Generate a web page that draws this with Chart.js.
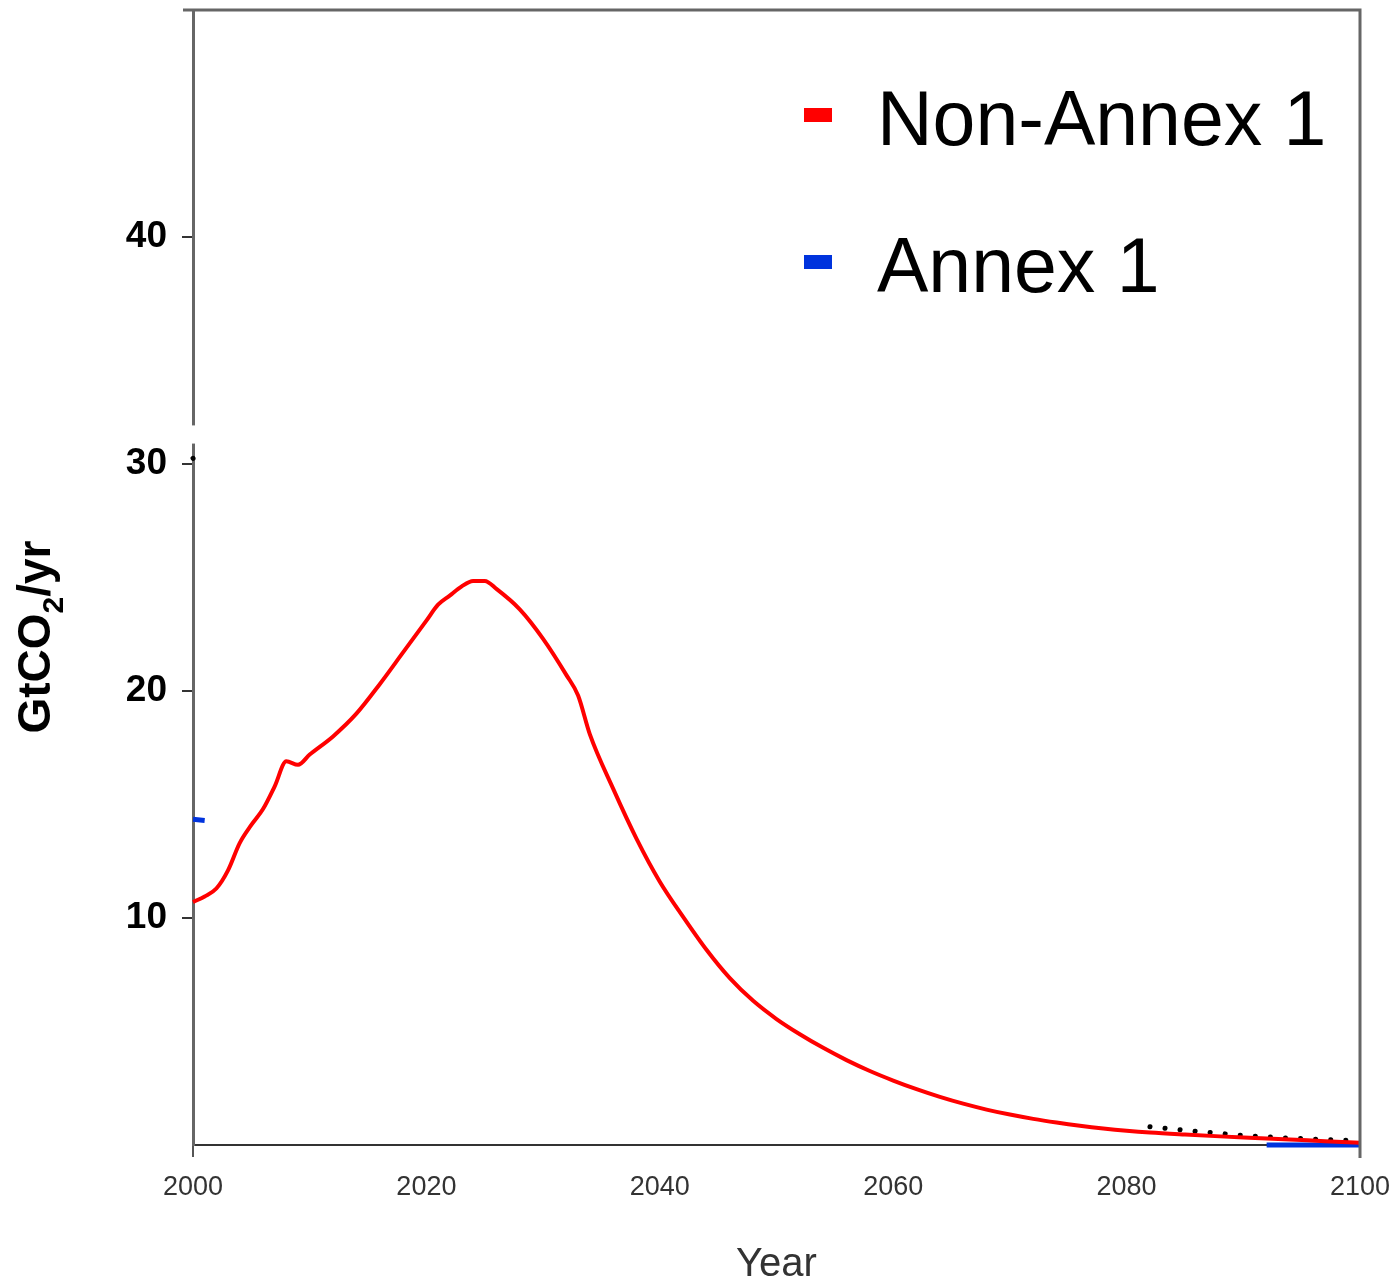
<!DOCTYPE html>
<html><head><meta charset="utf-8">
<script src="https://cdn.jsdelivr.net/npm/chart.js@4/dist/chart.umd.min.js"></script>
<style>html,body{margin:0;padding:0;background:#fff;} #wrap{width:1395px;height:1282px;position:relative}</style>
</head><body><div id="wrap"><canvas id="c" width="1395" height="1282"></canvas></div>
<script>
// ---- data ----
const nonAnnexYears = [2000,2001,2002,2003,2004,2005,2006,2007,2008,2009,2010,2012,2014,2016,2018,2020,2021,2022,2023,2024,2025,2026,2028,2030,2032,2033,2034,2036,2038,2040,2042,2044,2046,2048,2050,2052,2054,2056,2058,2060,2062,2064,2066,2068,2070,2072,2074,2076,2078,2080,2082,2085,2088,2091,2094,2097,2100];
const nonAnnexValues = [10.7,10.95,11.3,12.1,13.3,14.1,14.8,15.8,16.9,16.75,17.2,18.0,19.0,20.3,21.7,23.1,23.8,24.2,24.6,24.85,24.85,24.5,23.6,22.3,20.7,19.8,18.1,15.7,13.5,11.6,10.05,8.6,7.35,6.35,5.55,4.88,4.28,3.74,3.26,2.84,2.46,2.12,1.82,1.56,1.34,1.15,0.99,0.85,0.73,0.63,0.55,0.46,0.38,0.31,0.24,0.17,0.1];
const annexYears = [2000,2001,2050,2092,2100];
const annexValues = [14.35,14.3,null,0,0];
const markerYears = [2000,2001.2,2040,2082,2086,2090,2094,2100];
const markerValues = [30.25,30.45,null,0.8,0.6,0.42,0.3,0.18];
const xTickValues = [2000,2020,2040,2060,2080,2100];
const yTickValues = [10,20,30,40];
const seriesLabels = ['Non-Annex 1','Annex 1'];
const seriesColors = ['#ff0000','#0033dd'];
const yTitleParts = ['GtCO','2','/yr'];
const xTitle = 'Year';

const toPts = (xs, ys) => xs.map((x,i)=>({x:x, y:ys[i]}));
const FAM = '"Liberation Sans", Arial, sans-serif';

const overlay = {
  id:'overlay',
  afterDraw(chart){
    const {ctx, chartArea:a, scales:{y}} = chart;
    ctx.save();
    // frame top and right
    ctx.strokeStyle='#666'; ctx.lineWidth=3;
    ctx.beginPath(); ctx.moveTo(a.left-10, a.top); ctx.lineTo(a.right, a.top); ctx.lineTo(a.right, a.bottom+13); ctx.stroke();
    // axis break
    ctx.fillStyle='#ffffff';
    const y1 = y.getPixelForValue(31.7), y2 = y.getPixelForValue(30.9);
    ctx.fillRect(a.left-4, y1, 8, y2-y1);
    // legend
    const ds = chart.data.datasets.filter(d=>d.label);
    const rows = [135, 282];
    ctx.font = '77px ' + FAM;
    ctx.textBaseline='alphabetic'; ctx.textAlign='left';
    ds.forEach((d,i)=>{
      const base = a.top + rows[i];
      ctx.fillStyle = d.borderColor;
      ctx.fillRect(a.left+611, base-37, 28, 14);
      ctx.fillStyle = '#000';
      ctx.fillText(d.label, a.left+684, base);
    });
    // y axis title with subscript
    const big = 'bold 46px ' + FAM, small = 'bold 30px ' + FAM;
    ctx.font = big; const w0 = ctx.measureText(yTitleParts[0]).width, w2 = ctx.measureText(yTitleParts[2]).width;
    ctx.font = small; const w1 = ctx.measureText(yTitleParts[1]).width;
    const total = w0 + w1 + w2;
    ctx.translate(50, 637);
    ctx.rotate(-Math.PI/2);
    ctx.fillStyle = '#000';
    let cx = -total/2;
    ctx.font = big; ctx.fillText(yTitleParts[0], cx, 0); cx += w0;
    ctx.font = small; ctx.fillText(yTitleParts[1], cx, 13); cx += w1;
    ctx.font = big; ctx.fillText(yTitleParts[2], cx, 0);
    ctx.restore();
  }
};

new Chart(document.getElementById('c'), {
  type:'line',
  data:{ datasets:[
    {label:seriesLabels[0], data:toPts(nonAnnexYears,nonAnnexValues), borderColor:seriesColors[0], backgroundColor:seriesColors[0], borderWidth:4, pointRadius:0, cubicInterpolationMode:'monotone', clip:false},
    {label:seriesLabels[1], data:toPts(annexYears,annexValues), borderColor:seriesColors[1], backgroundColor:seriesColors[1], borderWidth:5, pointRadius:0, spanGaps:false, clip:false},
    {label:'', data:toPts(markerYears,markerValues), borderColor:'#000', borderWidth:5, borderDash:[0.1,15], borderCapStyle:'round', pointRadius:0, spanGaps:false, clip:false}
  ]},
  options:{
    responsive:false, animation:false, devicePixelRatio:1,
    layout:{padding:{left:0,right:35,top:10,bottom:0}},
    plugins:{legend:{display:false}, tooltip:{enabled:false}},
    scales:{
      x:{type:'linear', min:2000, max:2100,
        afterBuildTicks:s=>{s.ticks = xTickValues.map(v=>({value:v}));},
        afterFit:s=>{s.height=137; s.paddingLeft=0; s.paddingRight=0;},
        ticks:{font:{size:27, family:FAM, lineHeight:1}, color:'#333', padding:17, maxRotation:0, autoSkip:false, callback:v=>String(v)},
        grid:{drawOnChartArea:false, tickLength:12, lineWidth:2, color:c=>(c.tick && (c.tick.value===2000||c.tick.value===2100))?'#555':'rgba(0,0,0,0)'},
        border:{color:'#333', width:2},
        title:{display:true, text:xTitle, color:'#333', font:{size:40, family:FAM, lineHeight:0.84}, padding:{top:0,bottom:0}}
      },
      y:{min:0, max:50,
        afterBuildTicks:s=>{s.ticks = yTickValues.map(v=>({value:v}));},
        afterFit:s=>{s.width=193; s.paddingTop=0; s.paddingBottom=0;},
        ticks:{font:{size:37, weight:'bold', family:FAM}, color:'#000', padding:15, autoSkip:false},
        grid:{drawOnChartArea:false, tickLength:11, lineWidth:2, color:'#333'},
        border:{color:'#666', width:3},
        title:{display:false}
      }
    }
  },
  plugins:[overlay]
});
</script></body></html>
